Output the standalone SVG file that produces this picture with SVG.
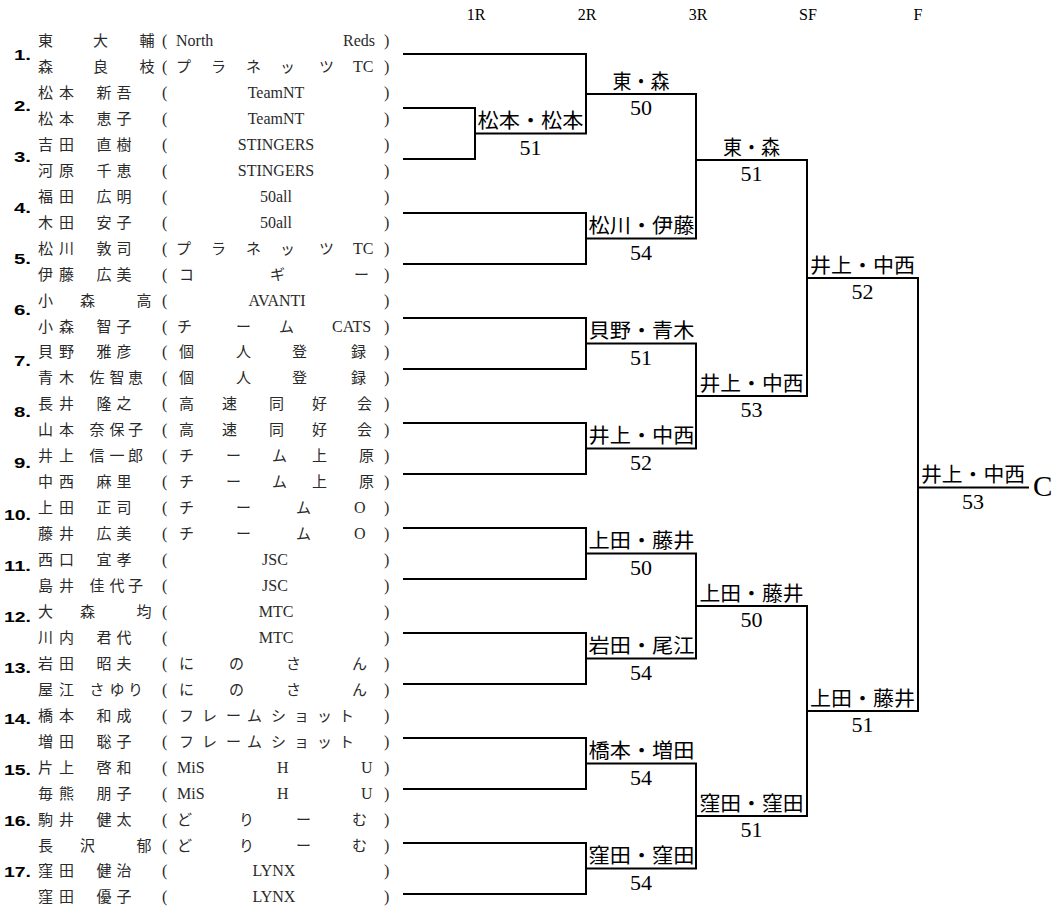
<svg xmlns="http://www.w3.org/2000/svg" width="1056" height="917" viewBox="0 0 1056 917">
<style>
.nm{font-family:"Liberation Serif","Noto Sans CJK JP",serif;font-size:15px;fill:#2a2a2a}
.lt{font-family:"Liberation Serif",serif;font-size:16px;fill:#2a2a2a}
.ltc{font-family:"Liberation Serif",serif;font-size:16px;fill:#2a2a2a;text-anchor:middle}
.no{font-family:"Liberation Sans",sans-serif;font-weight:bold;font-size:15px;text-anchor:end;fill:#000}
.hd{font-family:"Liberation Serif",serif;font-size:16px;text-anchor:middle;fill:#000}
.wn{font-family:"Liberation Serif","Noto Sans CJK JP",serif;font-size:20px;fill:#000}
.sc{font-family:"Liberation Serif",serif;font-size:22px;text-anchor:middle;fill:#000}
.ln{stroke:#000;stroke-width:2;fill:none;stroke-linecap:square}
</style>
<rect width="1056" height="917" fill="#fff"/>
<g id="header">
<text class="hd" x="476" y="20">1R</text>
<text class="hd" x="587" y="20">2R</text>
<text class="hd" x="698" y="20">3R</text>
<text class="hd" x="808" y="20">SF</text>
<text class="hd" x="918" y="20">F</text>
</g>
<g id="pair1">
<text class="no" x="31" y="60" textLength="17" lengthAdjust="spacingAndGlyphs">1.</text>
<text class="nm" x="38 93 139.5" y="46">東大輔</text><text class="lt" x="162" y="46">(</text><text class="lt" x="176" y="46">North</text><text class="lt" x="343" y="46">Reds</text><text class="lt" x="384" y="46">)</text>
<text class="nm" x="38 93 139.5" y="72">森良枝</text><text class="lt" x="162" y="72">(</text><text class="nm" x="176 211 246 280 319" y="72">プラネッツ</text><text class="lt" x="353" y="72">TC</text><text class="lt" x="384" y="72">)</text>
</g>
<g id="pair2">
<text class="no" x="31" y="111" textLength="17" lengthAdjust="spacingAndGlyphs">2.</text>
<text class="nm" x="38 59 96.5 116.5" y="97.9">松本新吾</text><text class="lt" x="162" y="97.9">(</text><text class="ltc" x="276" y="97.9">TeamNT</text><text class="lt" x="384" y="97.9">)</text>
<text class="nm" x="38 59 96.5 116.5" y="123.9">松本恵子</text><text class="lt" x="162" y="123.9">(</text><text class="ltc" x="276" y="123.9">TeamNT</text><text class="lt" x="384" y="123.9">)</text>
</g>
<g id="pair3">
<text class="no" x="31" y="162" textLength="17" lengthAdjust="spacingAndGlyphs">3.</text>
<text class="nm" x="38 59 96.5 116.5" y="149.8">吉田直樹</text><text class="lt" x="162" y="149.8">(</text><text class="ltc" x="276" y="149.8">STINGERS</text><text class="lt" x="384" y="149.8">)</text>
<text class="nm" x="38 59 96.5 116.5" y="175.8">河原千恵</text><text class="lt" x="162" y="175.8">(</text><text class="ltc" x="276" y="175.8">STINGERS</text><text class="lt" x="384" y="175.8">)</text>
</g>
<g id="pair4">
<text class="no" x="31" y="213" textLength="17" lengthAdjust="spacingAndGlyphs">4.</text>
<text class="nm" x="38 59 96.5 116.5" y="201.7">福田広明</text><text class="lt" x="162" y="201.7">(</text><text class="ltc" x="276" y="201.7">50all</text><text class="lt" x="384" y="201.7">)</text>
<text class="nm" x="38 59 96.5 116.5" y="227.7">木田安子</text><text class="lt" x="162" y="227.7">(</text><text class="ltc" x="276" y="227.7">50all</text><text class="lt" x="384" y="227.7">)</text>
</g>
<g id="pair5">
<text class="no" x="31" y="264" textLength="17" lengthAdjust="spacingAndGlyphs">5.</text>
<text class="nm" x="38 59 96.5 116.5" y="253.6">松川敦司</text><text class="lt" x="162" y="253.6">(</text><text class="nm" x="176 211 246 280 319" y="253.6">プラネッツ</text><text class="lt" x="353" y="253.6">TC</text><text class="lt" x="384" y="253.6">)</text>
<text class="nm" x="38 59 96.5 116.5" y="279.6">伊藤広美</text><text class="lt" x="162" y="279.6">(</text><text class="nm" x="179 270 354" y="279.6">コギー</text><text class="lt" x="384" y="279.6">)</text>
</g>
<g id="pair6">
<text class="no" x="31" y="315" textLength="17" lengthAdjust="spacingAndGlyphs">6.</text>
<text class="nm" x="38 80 136.5" y="305.5">小森高</text><text class="lt" x="162" y="305.5">(</text><text class="ltc" x="277" y="305.5">AVANTI</text><text class="lt" x="384" y="305.5">)</text>
<text class="nm" x="38 59 96.5 116.5" y="331.5">小森智子</text><text class="lt" x="162" y="331.5">(</text><text class="nm" x="177 236 279" y="331.5">チーム</text><text class="lt" x="332" y="331.5">CATS</text><text class="lt" x="384" y="331.5">)</text>
</g>
<g id="pair7">
<text class="no" x="31" y="366" textLength="17" lengthAdjust="spacingAndGlyphs">7.</text>
<text class="nm" x="38 59 96.5 116.5" y="357.4">貝野雅彦</text><text class="lt" x="162" y="357.4">(</text><text class="nm" x="179 236 292 351" y="357.4">個人登録</text><text class="lt" x="384" y="357.4">)</text>
<text class="nm" x="38 59 89.5 109.5 128" y="383.4">青木佐智恵</text><text class="lt" x="162" y="383.4">(</text><text class="nm" x="179 236 292 351" y="383.4">個人登録</text><text class="lt" x="384" y="383.4">)</text>
</g>
<g id="pair8">
<text class="no" x="31" y="417" textLength="17" lengthAdjust="spacingAndGlyphs">8.</text>
<text class="nm" x="38 59 96.5 116.5" y="409.3">長井隆之</text><text class="lt" x="162" y="409.3">(</text><text class="nm" x="179 222 269 312 357" y="409.3">高速同好会</text><text class="lt" x="384" y="409.3">)</text>
<text class="nm" x="38 59 89.5 109.5 128" y="435.3">山本奈保子</text><text class="lt" x="162" y="435.3">(</text><text class="nm" x="179 222 269 312 357" y="435.3">高速同好会</text><text class="lt" x="384" y="435.3">)</text>
</g>
<g id="pair9">
<text class="no" x="31" y="468" textLength="17" lengthAdjust="spacingAndGlyphs">9.</text>
<text class="nm" x="38 59 89.5 109.5 128" y="461.2">井上信一郎</text><text class="lt" x="162" y="461.2">(</text><text class="nm" x="179 226 272 312 359" y="461.2">チーム上原</text><text class="lt" x="384" y="461.2">)</text>
<text class="nm" x="38 59 96.5 116.5" y="487.2">中西麻里</text><text class="lt" x="162" y="487.2">(</text><text class="nm" x="179 226 272 312 359" y="487.2">チーム上原</text><text class="lt" x="384" y="487.2">)</text>
</g>
<g id="pair10">
<text class="no" x="31" y="520" textLength="27" lengthAdjust="spacingAndGlyphs">10.</text>
<text class="nm" x="38 59 96.5 116.5" y="513.1">上田正司</text><text class="lt" x="162" y="513.1">(</text><text class="nm" x="179 236 296" y="513.1">チーム</text><text class="lt" x="354" y="513.1">O</text><text class="lt" x="384" y="513.1">)</text>
<text class="nm" x="38 59 96.5 116.5" y="539.1">藤井広美</text><text class="lt" x="162" y="539.1">(</text><text class="nm" x="179 236 296" y="539.1">チーム</text><text class="lt" x="354" y="539.1">O</text><text class="lt" x="384" y="539.1">)</text>
</g>
<g id="pair11">
<text class="no" x="31" y="571" textLength="27" lengthAdjust="spacingAndGlyphs">11.</text>
<text class="nm" x="38 59 96.5 116.5" y="565">西口宜孝</text><text class="lt" x="162" y="565">(</text><text class="ltc" x="275" y="565">JSC</text><text class="lt" x="384" y="565">)</text>
<text class="nm" x="38 59 89.5 109.5 128" y="591">島井佳代子</text><text class="lt" x="162" y="591">(</text><text class="ltc" x="275" y="591">JSC</text><text class="lt" x="384" y="591">)</text>
</g>
<g id="pair12">
<text class="no" x="31" y="622" textLength="27" lengthAdjust="spacingAndGlyphs">12.</text>
<text class="nm" x="38 80 136.5" y="616.9">大森均</text><text class="lt" x="162" y="616.9">(</text><text class="ltc" x="276" y="616.9">MTC</text><text class="lt" x="384" y="616.9">)</text>
<text class="nm" x="38 59 96.5 116.5" y="642.9">川内君代</text><text class="lt" x="162" y="642.9">(</text><text class="ltc" x="276" y="642.9">MTC</text><text class="lt" x="384" y="642.9">)</text>
</g>
<g id="pair13">
<text class="no" x="31" y="673" textLength="27" lengthAdjust="spacingAndGlyphs">13.</text>
<text class="nm" x="38 59 96.5 116.5" y="668.8">岩田昭夫</text><text class="lt" x="162" y="668.8">(</text><text class="nm" x="179 229 286 352" y="668.8">にのさん</text><text class="lt" x="384" y="668.8">)</text>
<text class="nm" x="38 59 89.5 109.5 128" y="694.8">屋江さゆり</text><text class="lt" x="162" y="694.8">(</text><text class="nm" x="179 229 286 352" y="694.8">にのさん</text><text class="lt" x="384" y="694.8">)</text>
</g>
<g id="pair14">
<text class="no" x="31" y="724" textLength="27" lengthAdjust="spacingAndGlyphs">14.</text>
<text class="nm" x="38 59 96.5 116.5" y="720.7">橋本和成</text><text class="lt" x="162" y="720.7">(</text><text class="nm" x="179 202 226 247 271 294 317 339" y="720.7">フレームショット</text><text class="lt" x="384" y="720.7">)</text>
<text class="nm" x="38 59 96.5 116.5" y="746.7">増田聡子</text><text class="lt" x="162" y="746.7">(</text><text class="nm" x="179 202 226 247 271 294 317 339" y="746.7">フレームショット</text><text class="lt" x="384" y="746.7">)</text>
</g>
<g id="pair15">
<text class="no" x="31" y="775" textLength="27" lengthAdjust="spacingAndGlyphs">15.</text>
<text class="nm" x="38 59 96.5 116.5" y="772.6">片上啓和</text><text class="lt" x="162" y="772.6">(</text><text class="lt" x="177" y="772.6">MiS</text><text class="lt" x="277" y="772.6">H</text><text class="lt" x="361" y="772.6">U</text><text class="lt" x="384" y="772.6">)</text>
<text class="nm" x="38 59 96.5 116.5" y="798.6">毎熊朋子</text><text class="lt" x="162" y="798.6">(</text><text class="lt" x="177" y="798.6">MiS</text><text class="lt" x="277" y="798.6">H</text><text class="lt" x="361" y="798.6">U</text><text class="lt" x="384" y="798.6">)</text>
</g>
<g id="pair16">
<text class="no" x="31" y="826" textLength="27" lengthAdjust="spacingAndGlyphs">16.</text>
<text class="nm" x="38 59 96.5 116.5" y="824.5">駒井健太</text><text class="lt" x="162" y="824.5">(</text><text class="nm" x="177 239 296 352" y="824.5">どりーむ</text><text class="lt" x="384" y="824.5">)</text>
<text class="nm" x="38 80 136.5" y="850.5">長沢郁</text><text class="lt" x="162" y="850.5">(</text><text class="nm" x="177 239 296 352" y="850.5">どりーむ</text><text class="lt" x="384" y="850.5">)</text>
</g>
<g id="pair17">
<text class="no" x="31" y="877" textLength="27" lengthAdjust="spacingAndGlyphs">17.</text>
<text class="nm" x="38 59 96.5 116.5" y="876.4">窪田健治</text><text class="lt" x="162" y="876.4">(</text><text class="ltc" x="274" y="876.4">LYNX</text><text class="lt" x="384" y="876.4">)</text>
<text class="nm" x="38 59 96.5 116.5" y="902.4">窪田優子</text><text class="lt" x="162" y="902.4">(</text><text class="ltc" x="274" y="902.4">LYNX</text><text class="lt" x="384" y="902.4">)</text>
</g>
<g id="connectors" class="ln">
<path d="M404 54H586V133.5M404 108H475V159H404M475 133.5H586"/>
<path d="M404 213H586V264H404"/>
<path d="M404 318H586V369H404"/>
<path d="M404 423H586V474H404"/>
<path d="M404 528H586V579H404"/>
<path d="M404 633H586V684H404"/>
<path d="M404 738H586V789H404"/>
<path d="M404 843H586V894H404"/>
<path d="M586 94H696V238.5H586"/>
<path d="M586 343.5H696V448.5H586"/>
<path d="M586 553.5H696V658.5H586"/>
<path d="M586 763.5H696V868.5H586"/>
<path d="M696 160H807V396H696"/>
<path d="M696 606H807V816H696"/>
<path d="M807 278H918V711H807"/>
<path d="M918 487.5H1028"/>
</g>
<g id="r1-m1"><text class="wn" x="477.5" y="128" textLength="106" lengthAdjust="spacingAndGlyphs">松本・松本</text><text class="sc" x="530.5" y="154.5">51</text></g>
<g id="r2-m1"><text class="wn" x="612.5" y="88.6" textLength="57" lengthAdjust="spacingAndGlyphs">東・森</text><text class="sc" x="641" y="115">50</text></g>
<g id="r2-m2"><text class="wn" x="588.5" y="233" textLength="106" lengthAdjust="spacingAndGlyphs">松川・伊藤</text><text class="sc" x="641" y="259.5">54</text></g>
<g id="r2-m3"><text class="wn" x="588.5" y="338" textLength="106" lengthAdjust="spacingAndGlyphs">貝野・青木</text><text class="sc" x="641" y="364.5">51</text></g>
<g id="r2-m4"><text class="wn" x="588.5" y="443" textLength="106" lengthAdjust="spacingAndGlyphs">井上・中西</text><text class="sc" x="641" y="469.5">52</text></g>
<g id="r2-m5"><text class="wn" x="588.5" y="548" textLength="106" lengthAdjust="spacingAndGlyphs">上田・藤井</text><text class="sc" x="641" y="574.5">50</text></g>
<g id="r2-m6"><text class="wn" x="588.5" y="653" textLength="106" lengthAdjust="spacingAndGlyphs">岩田・尾江</text><text class="sc" x="641" y="679.5">54</text></g>
<g id="r2-m7"><text class="wn" x="588.5" y="758" textLength="106" lengthAdjust="spacingAndGlyphs">橋本・増田</text><text class="sc" x="641" y="784.5">54</text></g>
<g id="r2-m8"><text class="wn" x="588.5" y="863" textLength="106" lengthAdjust="spacingAndGlyphs">窪田・窪田</text><text class="sc" x="641" y="889.5">54</text></g>
<g id="r3-m1"><text class="wn" x="723" y="154.6" textLength="57" lengthAdjust="spacingAndGlyphs">東・森</text><text class="sc" x="751.5" y="181">51</text></g>
<g id="r3-m2"><text class="wn" x="699.5" y="390.6" textLength="104" lengthAdjust="spacingAndGlyphs">井上・中西</text><text class="sc" x="751.5" y="417">53</text></g>
<g id="r3-m3"><text class="wn" x="699.5" y="600.6" textLength="104" lengthAdjust="spacingAndGlyphs">上田・藤井</text><text class="sc" x="751.5" y="627">50</text></g>
<g id="r3-m4"><text class="wn" x="699.5" y="810.6" textLength="104" lengthAdjust="spacingAndGlyphs">窪田・窪田</text><text class="sc" x="751.5" y="837">51</text></g>
<g id="sf-m1"><text class="wn" x="810" y="272.6" textLength="105" lengthAdjust="spacingAndGlyphs">井上・中西</text><text class="sc" x="862.5" y="299">52</text></g>
<g id="sf-m2"><text class="wn" x="810" y="705.6" textLength="105" lengthAdjust="spacingAndGlyphs">上田・藤井</text><text class="sc" x="862.5" y="732">51</text></g>
<g id="final"><text class="wn" x="921" y="482" textLength="104" lengthAdjust="spacingAndGlyphs">井上・中西</text><text class="sc" x="973" y="508.5">53</text></g>
<g id="champion"><text x="1033" y="496" style="font-family:'Liberation Serif',serif;font-size:29px;fill:#000">C</text></g>
</svg>
